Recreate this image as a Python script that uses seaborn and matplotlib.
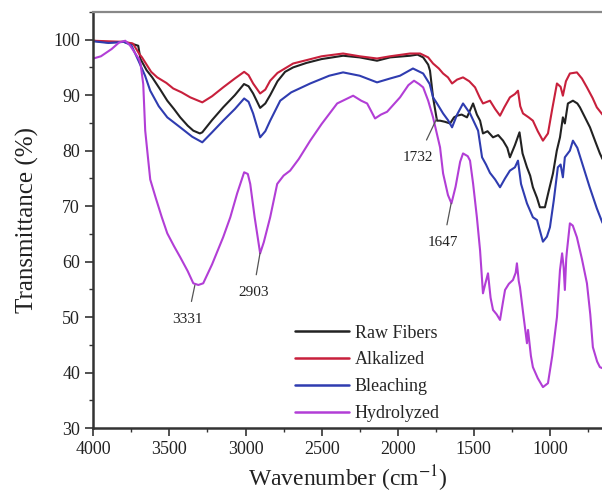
import numpy as np
import pandas as pd
import matplotlib
matplotlib.use('Agg')
import matplotlib.pyplot as plt
from matplotlib.ticker import MultipleLocator
import seaborn as sns

# spectra (wavenumber, transmittance %)
wn_raw = [4000, 3900, 3800, 3740, 3705, 3690, 3650, 3613, 3560, 3514, 3470, 3429, 3380, 3343, 3300, 3284,
          3220, 3147, 3070, 3010, 2980, 2950, 2904, 2870, 2838, 2790, 2740, 2687, 2600, 2500, 2359, 2250,
          2136, 2050, 1919, 1870, 1833, 1800, 1788, 1768, 1742, 1722, 1690, 1656, 1630, 1610, 1580, 1545,
          1505, 1480, 1459, 1440, 1410, 1374, 1340, 1308, 1280, 1263, 1230, 1200, 1180, 1151, 1130, 1112,
          1085, 1066, 1033, 1010, 980, 955, 934, 915, 902, 882, 849, 820, 803, 770, 737, 700, 672, 655]
t_raw = [99.8, 99.5, 99.6, 99.2, 98.9, 96.5, 94.5, 93.2, 91.0, 89.0, 87.5, 86.0, 84.5, 83.6, 83.1, 83.3,
         85.5, 87.8, 90.0, 92.0, 91.6, 90.3, 87.7, 88.5, 90.0, 92.5, 94.2, 95.0, 95.8, 96.5, 97.1, 96.8,
         96.2, 96.8, 97.1, 97.3, 96.8, 95.5, 94.4, 89.6, 85.4, 85.4, 85.2, 84.9, 86.0, 86.3, 86.5, 86.0,
         88.5, 86.5, 85.4, 83.1, 83.5, 82.4, 82.8, 81.8, 80.5, 78.8, 81.0, 83.3, 79.5, 77.0, 75.5, 73.4,
         71.5, 69.8, 69.8, 72.5, 75.9, 80.0, 82.4, 86.0, 84.9, 88.5, 89.0, 88.5, 87.8, 86.0, 84.2, 81.5, 79.5, 78.5]

wn_alk = [4000, 3900, 3800, 3740, 3700, 3680, 3620, 3580, 3520, 3475, 3420, 3363, 3284, 3220, 3147, 3070,
          3009, 2980, 2950, 2904, 2870, 2838, 2790, 2687, 2600, 2500, 2359, 2250, 2136, 2050, 1919, 1853,
          1800, 1768, 1730, 1702, 1670, 1643, 1610, 1571, 1530, 1492, 1460, 1440, 1394, 1360, 1328, 1300,
          1263, 1230, 1210, 1195, 1177, 1140, 1112, 1080, 1046, 1013, 985, 954, 930, 915, 895, 869, 823,
          790, 757, 720, 692, 655]
t_alk = [99.8, 99.7, 99.6, 99.3, 97.5, 96.8, 94.2, 93.2, 92.2, 91.2, 90.5, 89.6, 88.7, 89.8, 91.4, 93.0,
         94.2, 93.6, 92.1, 90.3, 91.0, 92.6, 94.0, 95.7, 96.3, 97.0, 97.5, 97.0, 96.6, 97.0, 97.5, 97.5,
         96.8, 95.7, 94.8, 93.9, 93.2, 92.1, 92.8, 93.2, 92.5, 91.4, 89.5, 88.5, 89.0, 87.5, 86.3, 87.8,
         89.6, 90.2, 90.8, 88.0, 86.7, 86.0, 85.4, 83.5, 81.8, 83.1, 87.5, 92.1, 91.5, 89.9, 92.5, 93.9, 94.1,
         93.0, 91.4, 89.5, 87.8, 86.5]

wn_bl = [4000, 3900, 3800, 3750, 3700, 3660, 3626, 3570, 3514, 3429, 3350, 3284, 3220, 3147, 3070, 3009,
         2980, 2950, 2904, 2870, 2838, 2772, 2700, 2575, 2450, 2359, 2250, 2136, 2050, 1985, 1900, 1833,
         1790, 1768, 1742, 1702, 1670, 1643, 1610, 1571, 1525, 1472, 1446, 1420, 1394, 1360, 1328, 1295,
         1263, 1230, 1210, 1190, 1151, 1112, 1085, 1046, 1020, 1000, 975, 948, 930, 915, 902, 869, 849,
         820, 780, 740, 692, 655]
t_bl = [99.7, 99.4, 99.6, 99.0, 96.0, 93.5, 90.8, 88.0, 86.0, 84.2, 82.5, 81.5, 83.3, 85.4, 87.5, 89.4,
        88.8, 86.7, 82.4, 83.5, 85.4, 89.0, 90.5, 92.1, 93.5, 94.1, 93.5, 92.3, 93.0, 93.5, 94.8, 93.9,
        92.0, 89.6, 88.5, 86.7, 85.5, 84.2, 86.5, 88.5, 86.7, 83.6, 78.8, 77.5, 76.0, 74.8, 73.4, 75.0,
        76.4, 77.0, 78.2, 74.0, 70.5, 68.0, 67.5, 63.6, 64.5, 66.2, 71.0, 77.0, 77.5, 75.2, 78.8, 80.0, 81.8,
        80.5, 77.0, 73.5, 69.6, 67.0]

wn_hyd = [4000, 3950, 3880, 3830, 3790, 3760, 3724, 3700, 3690, 3672, 3659, 3640, 3626, 3590, 3550, 3514,
          3470, 3429, 3380, 3343, 3310, 3278, 3220, 3147, 3100, 3055, 3009, 2985, 2969, 2940, 2904, 2880,
          2838, 2792, 2750, 2707, 2650, 2575, 2500, 2398, 2293, 2240, 2201, 2149, 2110, 2070, 1985, 1930,
          1893, 1860, 1833, 1800, 1768, 1722, 1702, 1670, 1647, 1620, 1590, 1571, 1540, 1525, 1505, 1480,
          1459, 1440, 1425, 1407, 1390, 1374, 1350, 1328, 1310, 1295, 1270, 1243, 1225, 1217, 1205, 1197,
          1175, 1151, 1144, 1125, 1112, 1080, 1046, 1013, 985, 954, 934, 920, 910, 902, 893, 888, 869, 850,
          823, 790, 757, 735, 718, 690, 672, 655]
t_hyd = [96.6, 97.0, 98.3, 99.5, 99.8, 99.0, 97.5, 96.5, 95.7, 92.0, 83.6, 78.5, 74.8, 71.5, 68.0, 65.1,
         62.8, 60.8, 58.3, 56.1, 55.8, 56.1, 59.5, 64.4, 68.0, 72.3, 76.1, 75.8, 74.0, 68.0, 61.5, 63.5,
         68.0, 74.0, 75.5, 76.4, 78.5, 81.8, 84.8, 88.5, 89.9, 89.0, 88.5, 85.8, 86.5, 87.0, 89.6, 91.8,
         92.6, 92.0, 91.4, 89.0, 86.0, 80.6, 75.9, 72.0, 70.5, 73.5, 78.0, 79.5, 79.0, 78.2, 74.1, 68.0,
         62.0, 54.3, 56.0, 57.9, 53.5, 51.3, 50.5, 49.5, 52.5, 54.9, 56.0, 56.7, 58.0, 59.7, 56.5, 55.4,
         50.5, 45.3, 47.7, 43.0, 41.0, 39.0, 37.4, 38.1, 43.0, 50.0, 58.5, 61.5, 59.0, 54.9, 60.5, 62.0, 66.9, 66.5,
         64.4, 60.5, 56.1, 50.5, 44.6, 42.0, 41.0, 40.8]

series = ['Raw Fibers', 'Alkalized', 'Bleaching', 'Hydrolyzed']
colors = ['#222222', '#c8203c', '#2f3cb0', '#b23ed6']

peaks = [3331, 2903, 1732, 1647]
peak_xy = [(3331, 56.0), (2903, 61.8), (1740, 86.0), (1647, 70.8)]
peak_text = [(3380, 49.6), (2950, 54.4), (1865, 78.8), (1700, 63.4)]

frames = []
for name, w, t in zip(series, [wn_raw, wn_alk, wn_bl, wn_hyd], [t_raw, t_alk, t_bl, t_hyd]):
    frames.append(pd.DataFrame({'wavenumber': w, 'T': t, 'sample': name}))
df = pd.concat(frames, ignore_index=True)

sns.set_style('ticks')
plt.rcParams['font.family'] = ['Liberation Serif', 'DejaVu Serif']
plt.rcParams['mathtext.fontset'] = 'stix'

fig = plt.figure(figsize=(6.02, 4.95), dpi=100)
ax = fig.add_axes([0.155, 0.135, 0.845, 0.841])

sns.lineplot(data=df, x='wavenumber', y='T', hue='sample', hue_order=series,
             palette=colors, estimator=None, sort=False, linewidth=1.5, ax=ax)

ax.set_xlim(4000, 658)
ax.set_ylim(30, 105)
ax.xaxis.set_major_locator(MultipleLocator(500))
ax.xaxis.set_minor_locator(MultipleLocator(250))
ax.yaxis.set_major_locator(MultipleLocator(10))
ax.yaxis.set_minor_locator(MultipleLocator(5))
ax.set_yticks([30, 40, 50, 60, 70, 80, 90, 100])
ax.tick_params(which='major', length=6, width=1.2, labelsize=13, colors='#333333', labelcolor='#222222')
ax.tick_params(which='minor', length=3, width=1.0, colors='#333333')
ax.tick_params(top=False, right=False)

for s in ['left', 'bottom']:
    ax.spines[s].set_linewidth(1.8)
    ax.spines[s].set_color('#333333')
ax.spines['top'].set_linewidth(1.6)
ax.spines['top'].set_color('#888888')
ax.spines['right'].set_visible(False)

ax.set_xlabel('Wavenumber (cm$^{-1}$)', fontsize=17, color='#222222', labelpad=4)
ax.set_ylabel('Transmittance (%)', fontsize=18, color='#222222', labelpad=10)

for p, xy, xt in zip(peaks, peak_xy, peak_text):
    ax.annotate(str(p), xy=xy, xytext=xt, fontsize=11, color='#222222',
                ha='center', va='center',
                arrowprops=dict(arrowstyle='-', color='#555555', lw=0.9, shrinkA=6, shrinkB=1))

leg = ax.legend(loc='lower left', bbox_to_anchor=(0.365, -0.025), frameon=False, fontsize=13,
                handlelength=3.0, handletextpad=0.3, labelspacing=0.55)
for line in leg.get_lines():
    line.set_linewidth(1.8)

fig.savefig('out.png', dpi=100)
